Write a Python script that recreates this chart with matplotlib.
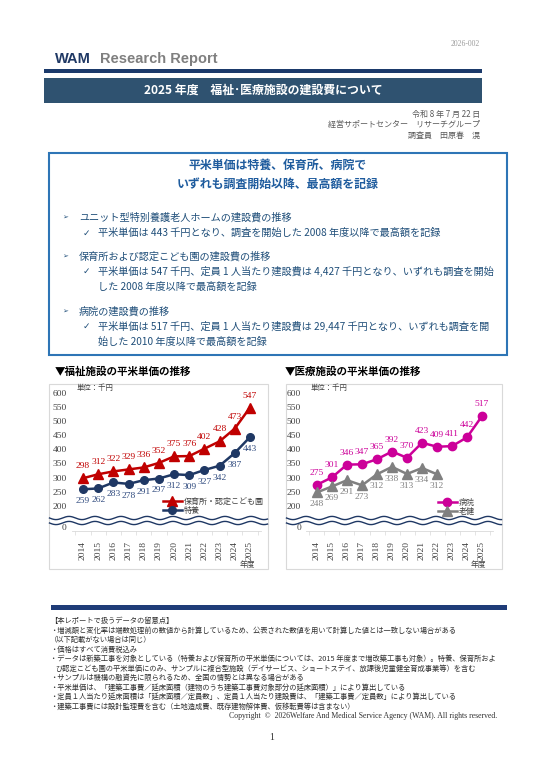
import numpy as np
import matplotlib
matplotlib.use("Agg")
import matplotlib.pyplot as plt
from matplotlib.patches import Rectangle
from matplotlib.lines import Line2D

plt.rcParams['font.family'] = ['Noto Sans CJK JP', 'DejaVu Sans']

# ---------------- data ----------------
years = ['2014', '2015', '2016', '2017', '2018', '2019', '2020', '2021', '2022', '2023', '2024', '2025']
hoikusho = [298, 312, 322, 329, 336, 352, 375, 376, 402, 428, 473, 547]
tokuyo = [259, 262, 283, 278, 291, 297, 312, 309, 327, 342, 387, 443]
byoin = [275, 301, 346, 347, 365, 392, 370, 423, 409, 411, 442, 517]
roken = [248, 269, 291, 273, 312, 338, 313, 334, 312]
ytick_vals = [200, 250, 300, 350, 400, 450, 500, 550, 600]

W, H = 543, 768
fig = plt.figure(figsize=(W / 100, H / 100), dpi=100)
fig.patch.set_facecolor('white')


def fx(x):
    return x / W


def fy(y):
    return 1 - y / H


def T(x, y, s, **kw):
    kw.setdefault('va', 'center')
    kw.setdefault('ha', 'left')
    return fig.text(fx(x), fy(y), s, **kw)


def R(x0, y0, x1, y1, **kw):
    r = Rectangle((fx(x0), fy(y1)), fx(x1) - fx(x0), fy(y0) - fy(y1),
                  transform=fig.transFigure, **kw)
    fig.add_artist(r)
    return r


SERIF = ['Liberation Serif', 'DejaVu Serif']
SANS = ['Liberation Sans', 'DejaVu Sans']

# ---------------- header ----------------
T(480, 44, '2026-002', ha='right', fontsize=5.5, color='#9A9A9A', family=SERIF)
T(55, 59, 'WAM', fontsize=10.5, fontweight='bold', color='#1F3864', family=SANS)
T(100, 59, 'Research Report', fontsize=10.5, fontweight='bold', color='#7F7F7F', family=SANS)
R(44, 69, 482, 73, facecolor='#1B3A6B', edgecolor='none')
R(44, 78, 482, 103, facecolor='#2F5270', edgecolor='none')
T(263, 90.5, '2025 年度　福祉･医療施設の建設費について', ha='center', fontsize=8.6,
  fontweight='bold', color='white')
T(480, 114.5, '令和 8 年 7 月 22 日', ha='right', fontsize=5.8, color='#595959')
T(480, 124.5, '経営サポートセンター　リサーチグループ', ha='right', fontsize=5.8, color='#595959')
T(480, 135, '調査員　田原春　滉', ha='right', fontsize=5.8, color='#595959')

# ---------------- summary box ----------------
R(49, 153, 507, 355, facecolor='white', edgecolor='#2E75B6', linewidth=1.5)
T(278, 165, '平米単価は特養、保育所、病院で', ha='center', fontsize=8.6, fontweight='bold', color='#1F5C9E')
T(278, 184, 'いずれも調査開始以降、最高額を記録', ha='center', fontsize=8.6, fontweight='bold', color='#1F5C9E')

BC = '#1F4E79'
FS = 7.3
heads = [(218, 'ユニット型特別養護老人ホームの建設費の推移'),
         (257, '保育所および認定こども園の建設費の推移'),
         (312, '病院の建設費の推移')]
for y, s in heads:
    T(62, y, '➢', fontsize=5, color=BC, family=['DejaVu Sans'])
    T(79, y, s, fontsize=FS, color=BC)
checks = [(233, '平米単価は 443 千円となり、調査を開始した 2008 年度以降で最高額を記録', True),
          (271, '平米単価は 547 千円、定員 1 人当たり建設費は 4,427 千円となり、いずれも調査を開始', True),
          (287, 'した 2008 年度以降で最高額を記録', False),
          (326, '平米単価は 517 千円、定員 1 人当たり建設費は 29,447 千円となり、いずれも調査を開', True),
          (342, '始した 2010 年度以降で最高額を記録', False)]
for y, s, mark in checks:
    if mark:
        T(83, y, '✓', fontsize=6.5, color=BC, family=['DejaVu Sans'])
    T(98, y, s, fontsize=FS, color=BC)

# ---------------- charts ----------------
ZERO_POS = 126


def wave(x0, x1, yc, color):
    xs = np.linspace(x0, x1, 400)
    ys = yc + 1.6 * np.sin((xs - x0) / 26.0 * 2 * np.pi)
    fig.add_artist(Line2D(fx(xs), fy(ys), transform=fig.transFigure, color=color, lw=1.0, zorder=5))


def chart(frame, axbox, title, title_x, series, legend_anchor):
    fx0, fx1 = frame
    R(fx0, 384, fx1, 569, facecolor='white', edgecolor='#D9D9D9', linewidth=0.8, zorder=-5)
    T(title_x, 372, title, fontsize=7.6, fontweight='bold', color='black')
    ax = fig.add_axes([fx(axbox[0]), fy(531), fx(axbox[1]) - fx(axbox[0]), (531 - 384) / H])
    ax.set_facecolor('none')
    ax.set_xlim(-0.7, 11.7)
    ax.set_ylim(112, 630)
    for sp in ['top', 'right', 'left']:
        ax.spines[sp].set_visible(False)
    ax.spines['bottom'].set_color('#D9D9D9')
    ax.spines['bottom'].set_linewidth(0.6)
    ax.set_yticks([ZERO_POS] + ytick_vals)
    ax.set_yticklabels(['0'] + [str(v) for v in ytick_vals], fontfamily='Liberation Serif')
    ax.set_xticks(range(len(years)))
    ax.set_xticklabels(years, rotation=90, fontfamily='Liberation Serif')
    ax.set_xticks(np.arange(-0.5, 12, 1), minor=True)
    ax.tick_params(axis='y', length=0, pad=4, labelsize=6.8, labelcolor='#404040')
    ax.tick_params(axis='x', which='major', length=0, pad=7, labelsize=6.8, labelcolor='#404040')
    ax.tick_params(axis='x', which='minor', length=3, width=0.5, color='#D9D9D9', direction='out')
    handles = []
    for vals, color, marker, ms, label, lcolor, up in series:
        xs = np.arange(len(vals))
        h, = ax.plot(xs, vals, color=color, lw=1.8, marker=marker, markersize=ms, label=label, zorder=3)
        handles.append(h)
        for x, v in zip(xs, vals):
            ax.annotate(str(v), (x, v), xytext=(0, 8.6 if up else -8.6), textcoords='offset points',
                        ha='center', va='center', fontsize=6.8, color=lcolor,
                        fontfamily='Liberation Serif')
    leg = ax.legend(handles=handles, loc='center left',
                    bbox_to_anchor=(fx(legend_anchor[0]), fy(legend_anchor[1])),
                    bbox_transform=fig.transFigure, frameon=False, borderpad=0, borderaxespad=0,
                    handlelength=2.3, handletextpad=0.3, labelspacing=0.05, fontsize=5.8)
    for t in leg.get_texts():
        t.set_color('#404040')
    T(axbox[0] + 4, 388, '単位：千円', fontsize=5.3, color='#404040')
    # axis break
    R(fx0 + 0.5, 518, fx1 - 0.5, 523, facecolor='white', edgecolor='none', zorder=4)
    wave(fx0 + 0.5, fx1 - 0.5, 518, '#1F3864')
    wave(fx0 + 0.5, fx1 - 0.5, 523, '#1F3864')
    return ax


chart((49, 268), (72.4, 260.6), '▼福祉施設の平米単価の推移', 55,
      [(hoikusho, '#C00000', '^', 6.5, '保育所・認定こども園', '#C00000', True),
       (tokuyo, '#1F3864', 'o', 5.5, '特養', '#2F4A7E', False)],
      (163, 506))
T(247, 565, '年度', fontsize=5.6, color='#404040', ha='center')

chart((286, 502), (306.5, 492.5), '▼医療施設の平米単価の推移', 285,
      [(byoin, '#CC0099', 'o', 6, '病院', '#CC0099', True),
       (roken, '#808080', '^', 6.5, '老健', '#808080', False)],
      (438, 507))
T(478, 565, '年度', fontsize=5.6, color='#404040', ha='center')

# ---------------- footer ----------------
R(51, 605, 507, 610, facecolor='#1F3C78', edgecolor='none')
notes = [
    (50, '【本レポートで扱うデータの留意点】'),
    (50, '・増減額と変化率は端数処理前の数値から計算しているため、公表された数値を用いて計算した値とは一致しない場合がある'),
    (50, '（以下記載がない場合は同じ）'),
    (50, '・価格はすべて消費税込み'),
    (50, '・データは新築工事を対象としている（特養および保育所の平米単価については、2015 年度まで増改築工事も対象）。特養、保育所およ'),
    (55, 'び認定こども園の平米単価にのみ、サンプルに複合型施設（デイサービス、ショートステイ、放課後児童健全育成事業等）を含む'),
    (50, '・サンプルは機構の融資先に限られるため、全国の情勢とは異なる場合がある'),
    (50, '・平米単価は、「建築工事費／延床面積（建物のうち建築工事費対象部分の延床面積）」により算出している'),
    (50, '・定員１人当たり延床面積は「延床面積／定員数」、定員１人当たり建設費は、「建築工事費／定員数」により算出している'),
    (50, '・建築工事費には設計監理費を含む（土地造成費、既存建物解体費、仮移転費等は含まない）'),
]
for i, (x, s) in enumerate(notes):
    T(x, 621 + i * 9.5, s, fontsize=5.25, color='#303030')
T(497, 716, 'Copyright  ©  2026Welfare And Medical Service Agency (WAM). All rights reserved.',
  ha='right', fontsize=5.6, color='#303030', family=SERIF)
T(272, 738, '1', ha='center', fontsize=7, color='#303030', family=SERIF)

fig.savefig('out.png', dpi=100, facecolor='white')
